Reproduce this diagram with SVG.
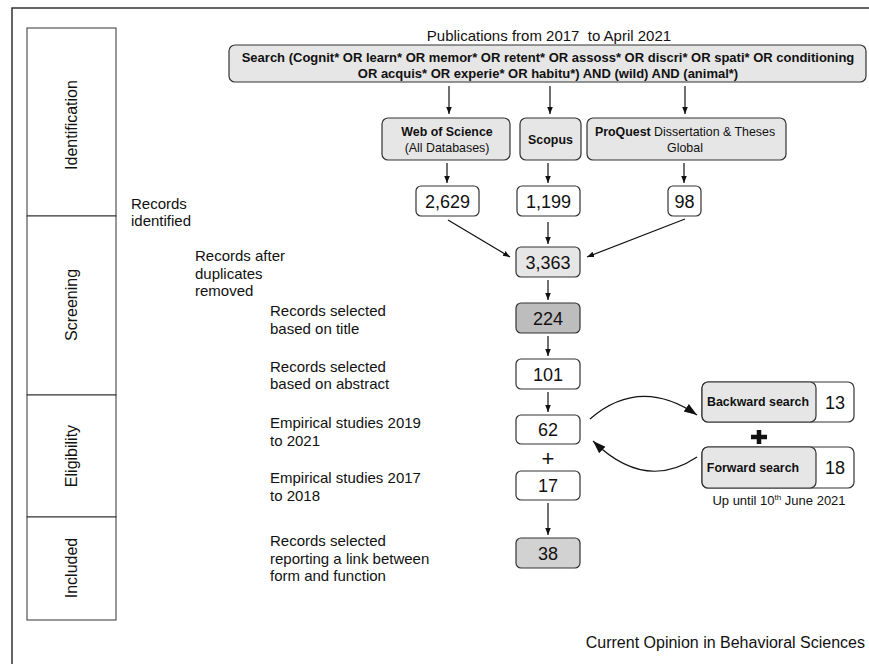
<svg xmlns="http://www.w3.org/2000/svg" width="869" height="664" viewBox="0 0 869 664">
<defs>
<marker id="ah" viewBox="0 0 10 10" refX="10" refY="5" markerWidth="7" markerHeight="7" markerUnits="userSpaceOnUse" orient="auto"><path d="M0,1 L10,5 L0,9 z" fill="#111"/></marker>
<marker id="ahb" viewBox="0 0 10 10" refX="10" refY="5" markerWidth="13" markerHeight="13" markerUnits="userSpaceOnUse" orient="auto"><path d="M0,1.5 L10,5 L0,8.5 z" fill="#111"/></marker>
</defs>
<style>
text{font-family:"Liberation Sans",Arial,sans-serif;fill:#111}
.box{stroke:#333;stroke-width:1.2}
.w{fill:#fff}
.l{fill:#e6e6e6}
.d{fill:#bdbdbd}
.m{fill:#d2d2d2}
.num{font-size:18px;text-anchor:middle}
.lab{font-size:15px}
.ph{font-size:16px;text-anchor:middle}
.b{font-weight:bold}
.db{font-size:12.4px;text-anchor:middle}
.c{stroke:#111;stroke-width:1.2;fill:none}
</style>
<rect width="869" height="664" fill="#fff"/>
<path d="M12,664 L12,8 L869,8" fill="none" stroke="#333" stroke-width="1.5"/>
<g id="phases">
<rect x="27" y="28" width="89" height="188" fill="#fff" stroke="#333" stroke-width="1"/>
<rect x="27" y="216" width="89" height="179" fill="#fff" stroke="#333" stroke-width="1"/>
<rect x="27" y="395" width="89" height="122" fill="#fff" stroke="#333" stroke-width="1"/>
<rect x="27" y="517" width="89" height="103" fill="#fff" stroke="#333" stroke-width="1"/>
<text class="ph" transform="translate(77,125) rotate(-90)">Identification</text>
<text class="ph" transform="translate(77,305) rotate(-90)">Screening</text>
<text class="ph" transform="translate(77,456) rotate(-90)">Eligibility</text>
<text class="ph" transform="translate(77,568) rotate(-90)">Included</text>
</g>
<g id="labels">
<text class="lab" x="131" y="208.5">Records</text>
<text class="lab" x="131" y="225.5">identified</text>
<text class="lab" x="195" y="260.5">Records after</text>
<text class="lab" x="195" y="278.5">duplicates</text>
<text class="lab" x="195" y="296">removed</text>
<text class="lab" x="270" y="315.5">Records selected</text>
<text class="lab" x="270" y="333.5">based on title</text>
<text class="lab" x="270" y="371.5">Records selected</text>
<text class="lab" x="270" y="388.5">based on abstract</text>
<text class="lab" x="270" y="427.5">Empirical studies 2019</text>
<text class="lab" x="270" y="445.5">to 2021</text>
<text class="lab" x="270" y="482.5">Empirical studies 2017</text>
<text class="lab" x="270" y="501">to 2018</text>
<text class="lab" x="270" y="545.5">Records selected</text>
<text class="lab" x="270" y="563.5">reporting a link between</text>
<text class="lab" x="270" y="580.5">form and function</text>
<text x="549" y="41" font-size="15" text-anchor="middle" xml:space="preserve">Publications from 2017  to April 2021</text>
<text x="865" y="648" font-size="16" text-anchor="end">Current Opinion in Behavioral Sciences</text>
</g>
<g id="search">
<rect class="box l" x="229" y="45" width="637" height="37" rx="6"/>
<text class="b" x="548" y="62" font-size="13" text-anchor="middle">Search (Cognit* OR learn* OR memor* OR retent* OR assoss* OR discri* OR spati* OR conditioning</text>
<text class="b" x="548" y="78" font-size="13" text-anchor="middle">OR acquis* OR experie* OR habitu*) AND (wild) AND (animal*)</text>
</g>
<g id="wos">
<rect class="box l" x="382" y="118" width="128" height="42" rx="6"/>
<text class="db b" x="447" y="136">Web of Science</text>
<text class="db" x="447" y="152">(All Databases)</text>
</g>
<g id="scopus">
<rect class="box l" x="520" y="118" width="61" height="42" rx="6"/>
<text class="db b" x="550.5" y="144">Scopus</text>
</g>
<g id="proquest">
<rect class="box l" x="587" y="118" width="199" height="42" rx="6"/>
<text class="db" x="685" y="136"><tspan font-weight="bold">ProQuest</tspan> Dissertation &amp; Theses</text>
<text class="db" x="685" y="152">Global</text>
</g>
<g id="n2629"><rect class="box w" x="416" y="186" width="63" height="30" rx="5"/><text class="num" x="447.5" y="207.5">2,629</text></g>
<g id="n1199"><rect class="box w" x="517" y="186" width="63" height="30" rx="5"/><text class="num" x="548.5" y="207.5">1,199</text></g>
<g id="n98"><rect class="box w" x="668" y="186" width="33" height="30" rx="5"/><text class="num" x="684.5" y="207.5">98</text></g>
<g id="n3363"><rect class="box l" x="516" y="247" width="64" height="30" rx="5"/><text class="num" x="548" y="268.5">3,363</text></g>
<g id="n224"><rect class="box d" x="516" y="303" width="64" height="30" rx="5"/><text class="num" x="548" y="324.5">224</text></g>
<g id="n101"><rect class="box w" x="516" y="359" width="64" height="30" rx="5"/><text class="num" x="548" y="380.5">101</text></g>
<g id="n62"><rect class="box w" x="516" y="415" width="64" height="29" rx="5"/><text class="num" x="548" y="436">62</text></g>
<text x="548" y="466" font-size="22" text-anchor="middle">+</text>
<g id="n17"><rect class="box w" x="516" y="471" width="64" height="29" rx="5"/><text class="num" x="548" y="492">17</text></g>
<g id="n38"><rect class="box m" x="516" y="538" width="64" height="30" rx="5"/><text class="num" x="548" y="559.5">38</text></g>
<g id="backward">
<rect class="box w" x="702" y="382" width="152" height="40" rx="6"/>
<rect class="box l" x="702" y="382" width="114" height="40" rx="6"/>
<text class="db b" x="758" y="406">Backward search</text>
<text class="num" x="835" y="408.5">13</text>
</g>
<path d="M751,437 h16 M759,430 v14" stroke="#111" stroke-width="4.5" fill="none"/>
<g id="forward">
<rect class="box w" x="702" y="447" width="152" height="41" rx="6"/>
<rect class="box l" x="702" y="447" width="114" height="41" rx="6"/>
<text class="db b" x="753" y="472">Forward search</text>
<text class="num" x="835" y="474">18</text>
</g>
<text x="779" y="505" font-size="13" text-anchor="middle">Up until 10<tspan font-size="8" dy="-5">th</tspan><tspan dy="5"> June 2021</tspan></text>
<g id="connectors">
<line class="c" x1="449" y1="86" x2="449" y2="114" marker-end="url(#ah)"/>
<line class="c" x1="550" y1="86" x2="550" y2="114" marker-end="url(#ah)"/>
<line class="c" x1="685" y1="86" x2="685" y2="114" marker-end="url(#ah)"/>
<line class="c" x1="447" y1="163" x2="447" y2="183" marker-end="url(#ah)"/>
<line class="c" x1="548" y1="163" x2="548" y2="183" marker-end="url(#ah)"/>
<line class="c" x1="684" y1="163" x2="684" y2="183" marker-end="url(#ah)"/>
<line class="c" x1="448" y1="220" x2="510" y2="257" marker-end="url(#ah)"/>
<line class="c" x1="685" y1="219" x2="587" y2="257" marker-end="url(#ah)"/>
<line class="c" x1="548" y1="222" x2="548" y2="244" marker-end="url(#ah)"/>
<line class="c" x1="548" y1="280" x2="548" y2="300" marker-end="url(#ah)"/>
<line class="c" x1="548" y1="336" x2="548" y2="356" marker-end="url(#ah)"/>
<line class="c" x1="548" y1="392" x2="548" y2="412" marker-end="url(#ah)"/>
<line class="c" x1="548" y1="503" x2="548" y2="535" marker-end="url(#ah)"/>
<path class="c" d="M590,419 Q640,376 697,415" marker-end="url(#ahb)"/>
<path class="c" d="M697,457 Q645,492 593,441" marker-end="url(#ahb)"/>
</g>
</svg>
